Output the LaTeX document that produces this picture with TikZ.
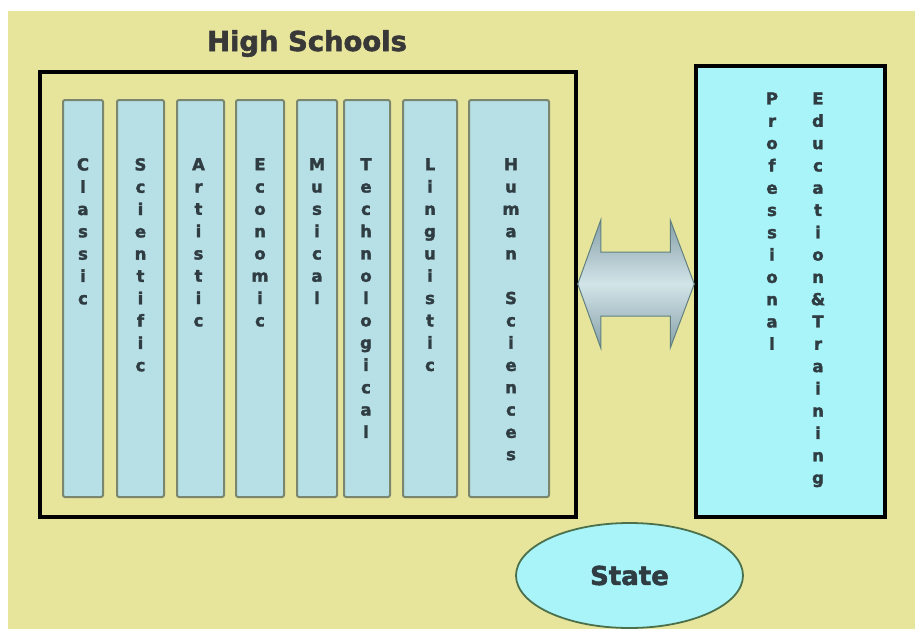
\documentclass[tikz,border=0pt]{standalone}
\usepackage{fontspec}
\setmainfont{DejaVu Sans}[BoldFeatures={FakeBold=2}]
\usetikzlibrary{shapes.geometric, calc, positioning}

\definecolor{paper}{HTML}{E7E59B}
\definecolor{colfill}{HTML}{B6E0E6}
\definecolor{colborder}{HTML}{7A866E}
\definecolor{cyanfill}{HTML}{A8F4F8}
\definecolor{inkdark}{HTML}{2F3D43}
\definecolor{arrowdark}{HTML}{86A0A9}
\definecolor{arrowlight}{HTML}{D2E4E8}

\begin{document}
\begin{tikzpicture}[x=1pt, y=-1pt,
    hsbox/.style={rectangle, draw=black, line width=3.5pt, fill=paper, inner sep=0pt},
    pebox/.style={rectangle, draw=black, line width=3.5pt, fill=cyanfill, inner sep=0pt},
    column/.style={rectangle, draw=colborder, line width=2pt, fill=colfill, rounded corners=2pt, minimum width=#1, minimum height=397, inner sep=0pt},
    letters/.style={anchor=north, align=center, inner sep=0pt, text=inkdark, font=\fontsize{16.5}{22.3}\selectfont\bfseries},
    title/.style={anchor=base, inner sep=0pt, text=black!78, font=\fontsize{27.4}{30}\selectfont\bfseries},
    statebox/.style={ellipse, draw=black!65!green!40!gray, line width=1.8pt, fill=cyanfill, minimum width=227, minimum height=105, inner sep=0pt, text=inkdark, font=\fontsize{26}{30}\selectfont\bfseries},
    linkarrow/.style={draw=gray!75!teal, line width=1pt, top color=arrowdark, bottom color=arrowdark, middle color=arrowlight}
]

% Background
\useasboundingbox (0,0) rectangle (915,629);
\fill[white] (0,0) rectangle (915,629);
\fill[paper] (8,11) rectangle (915,629);

% High schools
\node[title] (hstitle) at (307,51) {High Schools};
\node[hsbox, minimum width=536, minimum height=445] (hs) at (308,294.5) {};

% Columns
\node[column=40] (classic) at (83,298.5) {};
\node[column=47] (scientific) at (140.5,298.5) {};
\node[column=47] (artistic) at (200.5,298.5) {};
\node[column=48] (economic) at (260,298.5) {};
\node[column=40] (musical) at (317,298.5) {};
\node[column=46] (technological) at (367,298.5) {};
\node[column=54] (linguistic) at (430,298.5) {};
\node[column=80] (human) at (509,298.5) {};

% Column texts
\node[letters] (classictxt) at ($(classic.north)+(0,59)$) {C\\l\\a\\s\\s\\i\\c};
\node[letters] (scientifictxt) at ($(scientific.north)+(0,59)$) {S\\c\\i\\e\\n\\t\\i\\f\\i\\c};
\node[letters] (artistictxt) at ($(artistic.north)+(-2,59)$) {A\\r\\t\\i\\s\\t\\i\\c};
\node[letters] (economictxt) at ($(economic.north)+(0,59)$) {E\\c\\o\\n\\o\\m\\i\\c};
\node[letters] (musicaltxt) at ($(musical.north)+(0,59)$) {M\\u\\s\\i\\c\\a\\l};
\node[letters] (technologicaltxt) at ($(technological.north)+(-1,59)$) {T\\e\\c\\h\\n\\o\\l\\o\\g\\i\\c\\a\\l};
\node[letters] (linguistictxt) at ($(linguistic.north)+(0,59)$) {L\\i\\n\\g\\u\\i\\s\\t\\i\\c};
\node[letters] (humantxt) at ($(human.north)+(2,59)$) {H\\u\\m\\a\\n\\\mbox{}\\S\\c\\i\\e\\n\\c\\e\\s};

% Professional education
\node[pebox, minimum width=189, minimum height=451] (pe) at (790.5,291.5) {};
\node[letters] (proftxt) at ($(pe.north)+(-18.5,28)$) {P\\r\\o\\f\\e\\s\\s\\i\\o\\n\\a\\l};
\node[letters] (edutxt) at ($(pe.north)+(27.5,28)$) {E\\d\\u\\c\\a\\t\\i\\o\\n\\\&\\T\\r\\a\\i\\n\\i\\n\\g};

% Link
\coordinate (mid) at (636,284);
\path (hs.east |- mid) coordinate (tipL) (pe.west |- mid) coordinate (tipR);
\draw[linkarrow] (tipL) -- ++(23,-64) -- ++(0,32) -- ($(tipR)+(-24,-32)$) -- ++(0,-32)
    -- (tipR) -- ++(-24,64) -- ++(0,-32) -- ($(tipL)+(23,32)$) -- ++(0,32) -- cycle;

% State
\node[statebox] (state) at (629.5,575.5) {State};

\end{tikzpicture}
\end{document}
